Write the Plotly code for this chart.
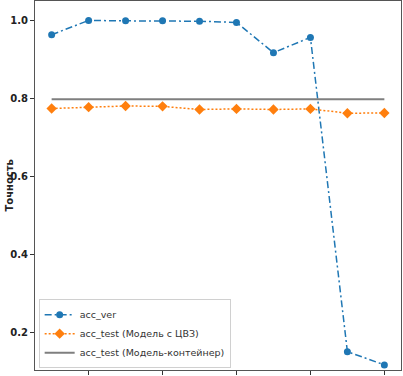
import plotly.graph_objects as go

epochs = [1, 2, 3, 4, 5, 6, 7, 8, 9, 10]
acc_ver = [0.9635, 1.0, 0.999, 0.999, 0.998, 0.995, 0.9175, 0.9566, 0.152, 0.118]
acc_test_cvz = [0.7745, 0.778, 0.781, 0.780, 0.772, 0.7735, 0.772, 0.7735, 0.7625, 0.763]
acc_test_container = [0.798] * 10
x_ticks = [2, 4, 6, 8, 10]
y_ticks = [0.2, 0.4, 0.6, 0.8, 1.0]
y_tick_labels = ["0.2", "0.4", "0.6", "0.8", "1.0"]

fig = go.Figure()
fig.add_trace(go.Scatter(
    x=epochs, y=acc_ver, name="acc_ver", mode="lines+markers",
    line=dict(color="#1f77b4", width=1.5, dash="7px,3px,2px,3px"),
    marker=dict(symbol="circle", size=7, color="#1f77b4"),
))
fig.add_trace(go.Scatter(
    x=epochs, y=acc_test_cvz, name="acc_test (Модель с ЦВЗ)", mode="lines+markers",
    line=dict(color="#ff7f0e", width=1.5, dash="2px,2px"),
    marker=dict(symbol="diamond", size=8, color="#ff7f0e"),
))
fig.add_trace(go.Scatter(
    x=epochs, y=acc_test_container, name="acc_test (Модель-контейнер)", mode="lines",
    line=dict(color="#7f7f7f", width=2),
))

fig.update_layout(
    width=403, height=376,
    margin=dict(l=35, r=2, t=1, b=6),
    paper_bgcolor="white", plot_bgcolor="white",
    font=dict(family="DejaVu Sans", color="#222"),
    showlegend=True,
    legend=dict(
        x=0.01, y=0.005, xanchor="left", yanchor="bottom",
        bgcolor="rgba(255,255,255,0.85)", bordercolor="#d0d0d0", borderwidth=1,
        font=dict(size=9.5, color="#333"),
        tracegroupgap=0, itemwidth=30,
    ),
    xaxis=dict(
        range=[0.55, 10.45], tickvals=x_ticks, showticklabels=False,
        ticks="outside", ticklen=4, tickcolor="#333",
        showgrid=False, zeroline=False, automargin=False,
        showline=True, linecolor="#555", linewidth=1, mirror=True,
    ),
    yaxis=dict(
        range=[0.105, 1.0498], tickvals=y_ticks, ticktext=y_tick_labels,
        ticks="outside", ticklen=4, tickcolor="#333",
        tickfont=dict(size=10, weight="bold", color="#222"),
        showgrid=False, zeroline=False, automargin=False,
        showline=True, linecolor="#555", linewidth=1, mirror=True,
    ),
    annotations=[dict(
        text="Точность", textangle=-90, showarrow=False,
        xref="paper", yref="paper", x=-26 / 366, y=0.5,
        xanchor="center", yanchor="middle",
        font=dict(size=10, weight="bold", color="#222"),
    )],
)

fig.write_html("out.html", config={"displayModeBar": False},
               post_script="document.body.style.margin='0';")
